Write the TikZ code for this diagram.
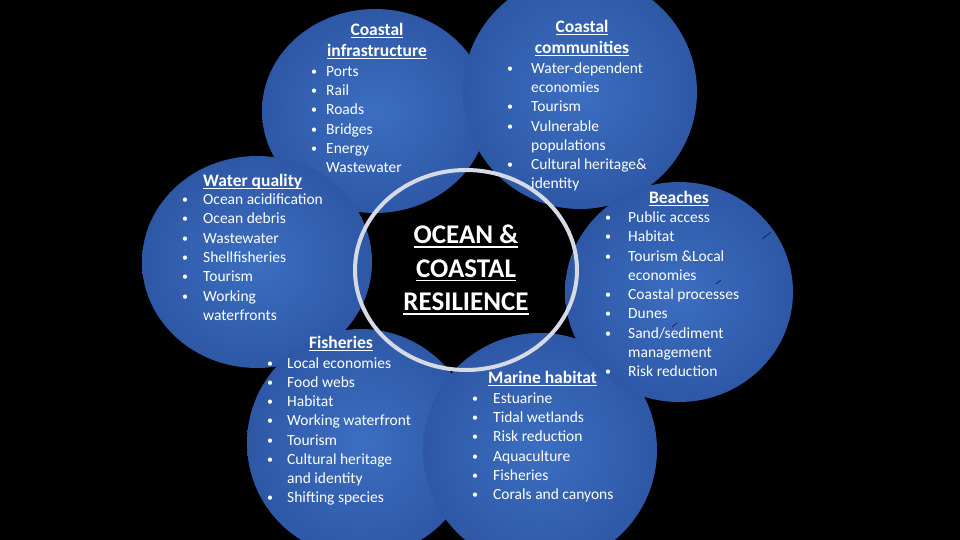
\documentclass[tikz,border=0pt]{standalone}
\usepackage{fontspec}
\setmainfont{Carlito}
\usetikzlibrary{shapes.geometric}
\definecolor{blueIn}{RGB}{60,110,192}
\definecolor{blueOut}{RGB}{46,88,166}
\definecolor{ringgray}{RGB}{214,218,228}
\definecolor{speck}{RGB}{20,32,72}
\newcommand\undl[3]{\setbox0\hbox{#3}\rlap{\rule[-#1]{\wd0}{#2}}\box0}
\begin{document}
\begin{tikzpicture}[x=1pt,y=-1pt,
    blob/.style={ellipse,shading=radial,inner color=blueIn,outer color=blueOut,inner sep=0pt},
    item/.style={anchor=base west,text=white,inner sep=0pt,font=\fontsize{15.5}{19}\selectfont},
    bul/.style={anchor=base,text=white,inner sep=0pt,font=\fontsize{12}{14}\selectfont},
    head/.style={anchor=base,text=white,inner sep=0pt,font=\bfseries\fontsize{17.5}{21}\selectfont}]
    \useasboundingbox (0,0) rectangle (960,540);
    \fill[black] (0,0) rectangle (960,540);

    \node[blob,minimum width=226pt,minimum height=204pt] (infra) at (375,111) {};
    \node[blob,minimum width=234pt,minimum height=234pt] (comm) at (580,92) {};
    \node[blob,minimum width=230pt,minimum height=212pt] (water) at (257,262) {};
    \node[blob,minimum width=228pt,minimum height=228pt] (fish) at (361,443) {};
    \node[blob,minimum width=234pt,minimum height=234pt] (marine) at (540,450) {};
    \node[blob,minimum width=228pt,minimum height=220pt] (beach) at (679,292) {};
    \draw[speck,line width=0.7pt] (762,239) -- (771,232) (716,284) -- (721,280) (672,327) -- (677,323);

    \node[ellipse,draw=ringgray,line width=4pt,minimum width=222pt,minimum height=200pt,
        text=white,align=center,font=\bfseries\fontsize{27}{33.5}\selectfont] (hub) at (466,270)
        {\undl{4pt}{1.8pt}{OCEAN \&}\\\undl{4pt}{1.8pt}{COASTAL}\\\undl{4pt}{1.8pt}{RESILIENCE}};

    \node[head] (infraT1) at (377,35.5) {\undl{2.8pt}{1.3pt}{Coastal}};
    \node[head] (infraT2) at (377,56.5) {\undl{2.8pt}{1.3pt}{infrastructure}};
    \foreach \t/\mk [count=\i] in {Ports/1,Rail/1,Roads/1,Bridges/1,Energy/1,Wastewater/0}{
        \pgfmathsetmacro{\yy}{76.5+(\i-1)*19.2}
        \node[item] (infra\i) at (326,\yy) {\t};
        \ifnum\mk=1 \node[bul] (infraB\i) at (314,\yy-1) {\textbullet};\fi
    }

    \node[head] (commT1) at (582,32.5) {\undl{2.8pt}{1.3pt}{Coastal}};
    \node[head] (commT2) at (582,53.5) {\undl{2.8pt}{1.3pt}{communities}};
    \foreach \t/\mk [count=\i] in {Water-dependent/1,economies/0,Tourism/1,Vulnerable/1,populations/0,Cultural heritage\&/1,identity/0}{
        \pgfmathsetmacro{\yy}{73.5+(\i-1)*19.2}
        \node[item] (comm\i) at (531,\yy) {\t};
        \ifnum\mk=1 \node[bul] (commB\i) at (510,\yy-1) {\textbullet};\fi
    }

    \node[head,anchor=base west] (waterT) at (203,186) {\undl{2.8pt}{1.3pt}{Water quality}};
    \foreach \t/\mk [count=\i] in {Ocean acidification/1,Ocean debris/1,Wastewater/1,Shellfisheries/1,Tourism/1,Working/1,waterfronts/0}{
        \pgfmathsetmacro{\yy}{204.5+(\i-1)*19.3}
        \node[item] (water\i) at (203,\yy) {\t};
        \ifnum\mk=1 \node[bul] (waterB\i) at (185,\yy-1) {\textbullet};\fi
    }

    \node[head] (beachT) at (679,203) {\undl{2.8pt}{1.3pt}{Beaches}};
    \foreach \t/\mk [count=\i] in {Public access/1,Habitat/1,Tourism \&Local/1,economies/0,Coastal processes/1,Dunes/1,{Sand/sediment}/1,management/0,Risk reduction/1}{
        \pgfmathsetmacro{\yy}{222.5+(\i-1)*19.25}
        \node[item] (beach\i) at (628,\yy) {\t};
        \ifnum\mk=1 \node[bul] (beachB\i) at (608,\yy-1) {\textbullet};\fi
    }

    \node[head] (fishT) at (341,348) {\undl{2.8pt}{1.3pt}{Fisheries}};
    \foreach \t/\mk [count=\i] in {Local economies/1,Food webs/1,Habitat/1,Working waterfront/1,Tourism/1,Cultural heritage/1,and identity/0,Shifting species/1}{
        \pgfmathsetmacro{\yy}{368.5+(\i-1)*19.15}
        \node[item] (fish\i) at (287,\yy) {\t};
        \ifnum\mk=1 \node[bul] (fishB\i) at (270,\yy-1) {\textbullet};\fi
    }

    \node[head,anchor=base west] (marineT) at (488,383) {\undl{2.8pt}{1.3pt}{Marine habitat}};
    \foreach \t [count=\i] in {Estuarine,Tidal wetlands,Risk reduction,Aquaculture,Fisheries,Corals and canyons}{
        \pgfmathsetmacro{\yy}{403.5+(\i-1)*19.2}
        \node[item] (marine\i) at (493,\yy) {\t};
        \node[bul] (marineB\i) at (475,\yy-1) {\textbullet};
    }
\end{tikzpicture}
\end{document}
